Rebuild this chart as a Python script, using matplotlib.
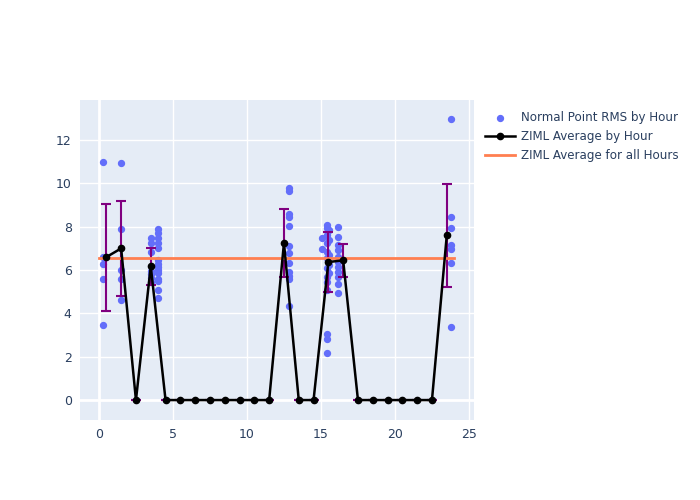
import matplotlib.pyplot as plt

# Normal point RMS, grouped by hour of day (x = time in hours)
h00_x = [0.27] * 5
h00_y = [11.0, 6.6, 6.27, 5.57, 3.48]
h01_x = [1.47] * 5
h01_y = [10.92, 7.88, 6.0, 5.57, 4.63]
h03a_x = [3.55] * 7
h03a_y = [7.46, 7.23, 6.84, 5.95, 5.8, 5.62, 5.46]
h03b_x = [4.0] * 14
h03b_y = [7.88, 7.69, 7.46, 7.23, 7.0, 6.45, 6.3, 6.15, 6.0, 5.86, 5.6, 5.5, 5.08, 4.69]
h12_x = [12.86] * 12
h12_y = [9.77, 9.66, 8.57, 8.43, 8.04, 7.1, 6.8, 6.34, 5.92, 5.72, 5.61, 4.34]
h15a_x = [15.1] * 2
h15a_y = [7.49, 6.95]
h15b_x = [15.38] * 13
h15b_y = [8.07, 7.92, 7.6, 7.23, 6.84, 6.54, 6.08, 5.69, 5.46, 5.08, 3.05, 2.8, 2.18]
h15c_x = [15.55] * 5
h15c_y = [7.85, 7.38, 6.69, 6.23, 5.85]
h16_x = [16.12] * 11
h16_y = [8.0, 7.54, 7.15, 6.92, 6.61, 6.38, 6.15, 5.92, 5.69, 5.38, 4.92]
h23_x = [23.78] * 7
h23_y = [12.95, 8.43, 7.95, 7.15, 6.95, 6.31, 3.38]

pt_x = h00_x + h01_x + h03a_x + h03b_x + h12_x + h15a_x + h15b_x + h15c_x + h16_x + h23_x
pt_y = h00_y + h01_y + h03a_y + h03b_y + h12_y + h15a_y + h15b_y + h15c_y + h16_y + h23_y

# hourly average and std
hours = [h + 0.5 for h in range(24)]
avg = [6.6, 7.0, 0, 6.18, 0, 0, 0, 0, 0, 0, 0, 0,
       7.25, 0, 0, 6.37, 6.45, 0, 0, 0, 0, 0, 0, 7.6]
std = [2.47, 2.2, 0, 0.85, 0, 0, 0, 0, 0, 0, 0, 0,
       1.56, 0, 0, 1.38, 0.75, 0, 0, 0, 0, 0, 0, 2.38]

overall = 6.55

txt = '#2a3f5f'
fig = plt.figure(figsize=(7, 5), dpi=100)
ax = fig.add_axes([80 / 700, 80 / 500, 394 / 700, 320 / 500])
ax.set_facecolor('#E5ECF6')
ax.grid(True, color='white', linewidth=1)
ax.set_axisbelow(True)
for s in ax.spines.values():
    s.set_visible(False)
ax.axhline(0, color='white', lw=2, zorder=0.5)
ax.axvline(0, color='white', lw=2, zorder=0.5)

ax.scatter(pt_x, pt_y, s=18, color='#636efa', label='Normal Point RMS by Hour', zorder=3)
ax.errorbar(hours, avg, yerr=std, fmt='none', ecolor='purple', elinewidth=1.5,
            capsize=3.5, capthick=1.5, zorder=4)
ax.plot(hours, avg, color='black', lw=1.8, marker='o', markersize=4.5,
        label='ZIML Average by Hour', zorder=5)
ax.plot([0, 24], [overall, overall], color='#FF7F50', lw=2,
        label='ZIML Average for all Hours', zorder=4)

ax.set_xlim(-1.28, 25.34)
ax.set_ylim(-0.92, 13.85)
ax.set_xticks([0, 5, 10, 15, 20, 25])
ax.set_yticks([0, 2, 4, 6, 8, 10, 12])
ax.tick_params(length=0, labelsize=9, labelcolor=txt, pad=6)

leg = ax.legend(loc='upper left', bbox_to_anchor=(1.0, 1.0), frameon=False,
                fontsize=8.6, labelcolor=txt, handlelength=2.5, handletextpad=0.5)

fig.savefig('out.png')
